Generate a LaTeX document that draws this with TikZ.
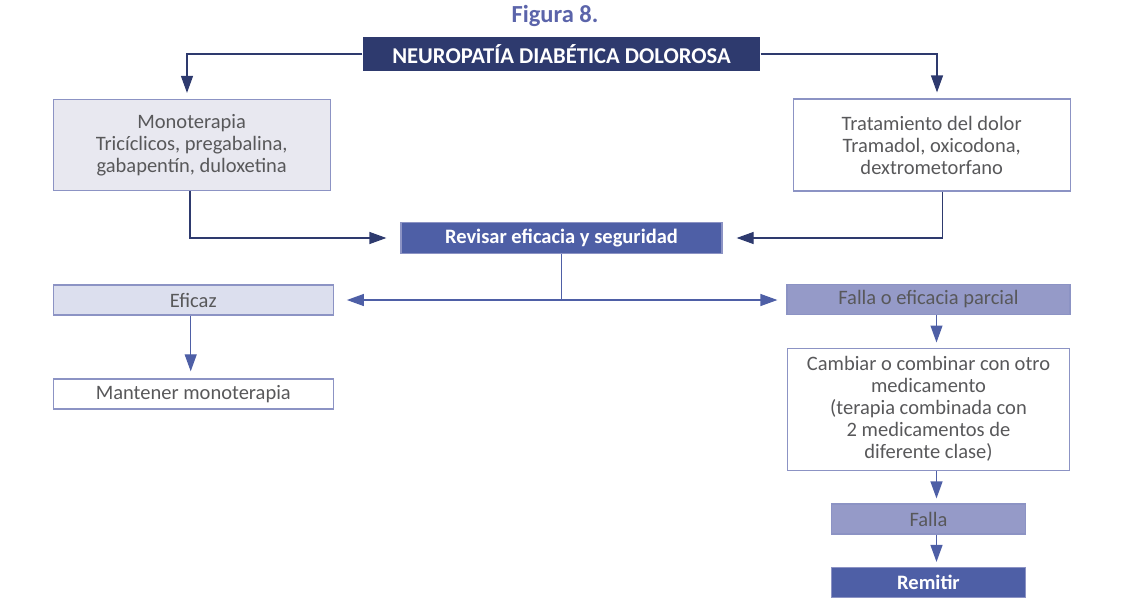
\documentclass[tikz,border=0pt]{standalone}
\usepackage{fontspec}
\setmainfont{Carlito}
\usepackage{tikz}
\usetikzlibrary{arrows.meta, positioning}
\definecolor{navycolor}{HTML}{2E3A6E}
\definecolor{revcolor}{HTML}{4E5FA6}
\definecolor{fallacolor}{HTML}{959AC8}
\definecolor{eficazcolor}{HTML}{DCDFEE}
\definecolor{monocolor}{HTML}{E8E8F0}
\definecolor{edgecolor}{HTML}{8C93C4}
\definecolor{textcolor}{HTML}{58585A}
\definecolor{figcolor}{HTML}{5B64AA}

\begin{document}
\begin{tikzpicture}[
  x=1pt, y=-1pt,
  node distance=5pt and 10pt,
  box/.style={rectangle, draw=edgecolor, line width=1.2pt, inner sep=2pt,
              minimum width=280pt, minimum height=30pt, align=center,
              text=textcolor, font=\fontsize{20.5}{22}\selectfont},
  dark/.style={box, fill=revcolor, text=white,
               font=\fontsize{20.5}{22}\selectfont\bfseries},
  link/.style={line width=1.2pt, revcolor},
  arrow/.style={link, -{Triangle[length=17pt,width=12pt]}},
  darkarrow/.style={arrow, navycolor},
]
\useasboundingbox (0,0) rectangle (1124,600);

\node[font=\fontsize{24.5}{26}\selectfont\bfseries, text=figcolor] (fig) at (555,16) {Figura 8.};
\node[dark, fill=navycolor, draw=none, minimum width=397pt, minimum height=34pt,
      font=\fontsize{22.6}{24}\selectfont\bfseries] (NDD) at (561.5,54) {NEUROPATÍA DIABÉTICA DOLOROSA};

\node[box, fill=monocolor, minimum width=277pt, minimum height=91pt] (mono) at (191.7,145)
     {Monoterapia\\Tricíclicos, pregabalina,\\gabapentín, duloxetina};
\node[box, minimum width=277pt, minimum height=92pt] (trat) at (931.7,145)
     {Tratamiento del dolor\\Tramadol, oxicodona,\\dextrometorfano};

\node[dark, minimum width=321pt, minimum height=31pt] (rev) at (561.5,238) {Revisar eficacia y seguridad};

\node[box, fill=eficazcolor] (eficaz) at (193.3,300) {Eficaz};
\node[box, below=62.7pt of eficaz] (mant) {Mantener monoterapia};

\node[box, fill=fallacolor, minimum width=283pt] (fallaP) at (928.5,299.5) {Falla o eficacia parcial};
\node[box, minimum width=282pt, minimum height=122pt, below=32.4pt of fallaP] (cambiar)
     {Cambiar o combinar con otro\\medicamento\\(terapia combinada con\\2 medicamentos de\\diferente clase)};
\node[box, fill=fallacolor, minimum width=194pt, below=32.7pt of cambiar] (falla) {Falla};
\node[dark, minimum width=194pt, below=32.3pt of falla] (remitir) {Remitir};

\draw[darkarrow, shorten >=6pt] (NDD.west) -| ([xshift=-4.7pt]mono.north);
\draw[darkarrow, shorten >=6pt] (NDD.east) -| ([xshift=5.3pt]trat.north);
\draw[darkarrow, shorten >=14pt] ([xshift=-1.7pt]mono.south) |- (rev.west);
\draw[darkarrow, shorten >=14pt] ([xshift=11pt]trat.south) |- (rev.east);

\coordinate (split) at (rev.south |- eficaz.east);
\draw[link] (rev.south) -- (split);
\draw[arrow, shorten >=13pt] (split) -- (eficaz.east);
\draw[arrow, shorten >=9pt] (split) -- (split -| fallaP.west);

\draw[arrow, shorten >=7pt] ([xshift=-2.6pt]eficaz.south) -- ([xshift=-2.6pt]mant.north);
\draw[arrow, shorten >=5pt] ([xshift=8pt]fallaP.south) -- ([xshift=8pt]cambiar.north);
\draw[arrow, shorten >=5pt] ([xshift=8pt]cambiar.south) -- ([xshift=8pt]falla.north);
\draw[arrow, shorten >=5pt] ([xshift=8pt]falla.south) -- ([xshift=8pt]remitir.north);
\end{tikzpicture}
\end{document}
